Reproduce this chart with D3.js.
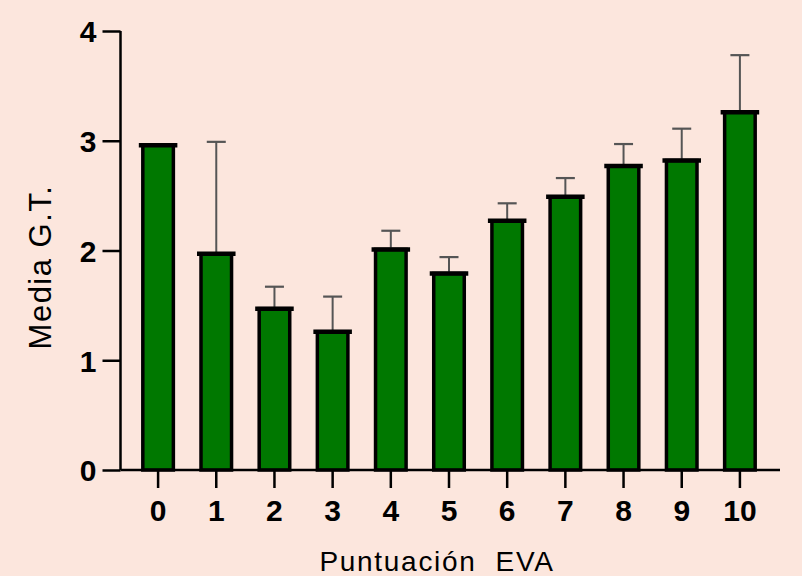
<!DOCTYPE html>
<html><head><meta charset="utf-8">
<script src="https://cdn.jsdelivr.net/npm/d3@7"></script>
<style>html,body{margin:0;padding:0;background:#fce6dd;}svg{display:block;}</style>
</head><body>
<script>
const categories = ["0","1","2","3","4","5","6","7","8","9","10"];
const means = [2.96, 1.97, 1.47, 1.26, 2.01, 1.79, 2.27, 2.49, 2.77, 2.82, 3.26];
const errors = [0, 1.02, 0.20, 0.32, 0.17, 0.15, 0.16, 0.17, 0.20, 0.29, 0.52];
const yTicks = [0, 1, 2, 3, 4];
const xTitle = "Puntuación\u00a0 EVA";
const yTitle = "Media G.T.";

const W = 802, H = 576;
const svg = d3.select("body").append("svg").attr("width", W).attr("height", H);
svg.append("rect").attr("width", W).attr("height", H).attr("fill", "#fce6dd");

const x = d3.scaleBand().domain(categories).range([129, 769]).paddingInner(0.475).paddingOuter(0.2375);
const y = d3.scaleLinear().domain([0, 4]).range([470, 31]);
const font = "'Liberation Sans', Arial, sans-serif";

// bars
const g = svg.append("g");
g.selectAll("rect.bar").data(categories).join("rect")
  .attr("class", "bar")
  .attr("x", d => x(d))
  .attr("width", x.bandwidth())
  .attr("y", (d, i) => y(means[i]))
  .attr("height", (d, i) => y(0) - y(means[i]))
  .attr("fill", "#007800")
  .attr("stroke", "#000").attr("stroke-width", 3.5);

// error bars
const cap = 19;
categories.forEach((d, i) => {
  if (errors[i] <= 0) return;
  const cx = x(d) + x.bandwidth() / 2;
  g.append("line").attr("x1", cx).attr("x2", cx)
    .attr("y1", y(means[i])).attr("y2", y(means[i] + errors[i]))
    .attr("stroke", "#555").attr("stroke-width", 2);
  g.append("line").attr("x1", cx - cap / 2).attr("x2", cx + cap / 2)
    .attr("y1", y(means[i] + errors[i])).attr("y2", y(means[i] + errors[i]))
    .attr("stroke", "#555").attr("stroke-width", 2.2);
});
// thick top line of bars
g.selectAll("line.top").data(categories).join("line")
  .attr("class", "top")
  .attr("x1", d => x(d) - 4).attr("x2", d => x(d) + x.bandwidth() + 4)
  .attr("y1", (d, i) => y(means[i])).attr("y2", (d, i) => y(means[i]))
  .attr("stroke", "#000").attr("stroke-width", 4.5);

// y axis
const yAxis = svg.append("g").attr("transform", "translate(120.5,0)")
  .call(d3.axisLeft(y).tickValues(yTicks).tickFormat(d3.format("d")).tickSize(18).tickPadding(6));
yAxis.select(".domain").attr("d", `M0,${y(4)}V${y(0)}`).attr("stroke", "#000").attr("stroke-width", 2.5);
yAxis.selectAll(".tick line").attr("stroke", "#000").attr("stroke-width", 2.5);
yAxis.selectAll(".tick text").attr("font-family", font).attr("font-weight", "bold")
  .attr("font-size", 30).attr("fill", "#000").attr("dy", "0.36em");

// x axis
const xAxis = svg.append("g").attr("transform", `translate(0,${y(0)})`)
  .call(d3.axisBottom(x).tickSize(18).tickPadding(12));
xAxis.select(".domain").attr("d", "M120.5,0H780").attr("stroke", "#000").attr("stroke-width", 2.5);
xAxis.selectAll(".tick line").attr("stroke", "#000").attr("stroke-width", 2.5);
xAxis.selectAll(".tick text").attr("font-family", font).attr("font-weight", "bold")
  .attr("font-size", 30).attr("fill", "#000");

// titles
svg.append("text").attr("x", 437).attr("y", 571).attr("text-anchor", "middle")
  .attr("font-family", font).attr("font-size", 28).attr("letter-spacing", 1.7)
  .attr("fill", "#000").text(xTitle);
svg.append("text").attr("transform", "translate(51,267) rotate(-90)").attr("text-anchor", "middle")
  .attr("font-family", font).attr("font-size", 31).attr("letter-spacing", 1.5)
  .attr("fill", "#000").text(yTitle);
</script>
</body></html>
